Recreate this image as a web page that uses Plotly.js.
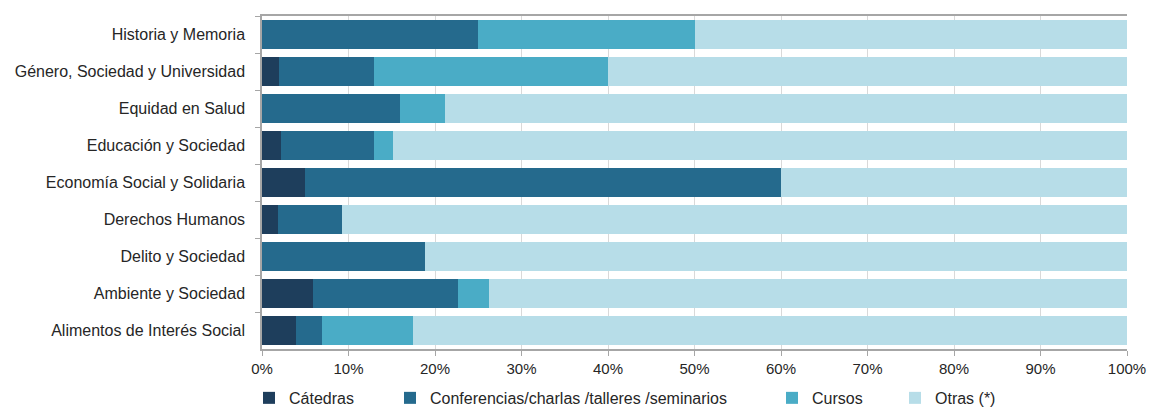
<!DOCTYPE html>
<html>
<head>
<meta charset="utf-8">
<script src="https://cdn.plot.ly/plotly-3.0.1.min.js"></script>
<style>html,body{margin:0;padding:0;background:#fff;}#chart{width:1151px;height:407px;}</style>
</head>
<body>
<div id="chart"></div>
<script>
const categories = [
  "Historia y Memoria",
  "Género, Sociedad y Universidad",
  "Equidad en Salud",
  "Educación y Sociedad",
  "Economía Social y Solidaria",
  "Derechos Humanos",
  "Delito y Sociedad",
  "Ambiente y Sociedad",
  "Alimentos de Interés Social"
];
const seriesNames = ["Cátedras", "Conferencias/charlas /talleres /seminarios", "Cursos", "Otras (*)"];
const catedras     = [0,   2,    0,    2.2,  5,  1.9, 0,    5.9,  3.9];
const conferencias = [25,  11,   15.9, 10.8, 55, 7.4, 18.8, 16.8, 3.0];
const cursos       = [25,  27,   5.2,  2.2,  0,  0,   0,    3.5,  10.6];
const otras        = [50,  60,   78.9, 84.8, 40, 90.7, 81.2, 73.8, 82.5];
const tickValues = [0, 0.1, 0.2, 0.3, 0.4, 0.5, 0.6, 0.7, 0.8, 0.9, 1];
const tickLabels = ["0%", "10%", "20%", "30%", "40%", "50%", "60%", "70%", "80%", "90%", "100%"];

const colors = ["#1e3e5c", "#256a8d", "#4aacc6", "#b7dde8"];
const allSeries = [catedras, conferencias, cursos, otras];
const legendIds = ["legend", "legend2", "legend3", "legend4"];

const traces = allSeries.map((vals, i) => ({
  type: "bar",
  orientation: "h",
  name: seriesNames[i],
  y: categories,
  x: vals.map((v, k) => v / (catedras[k] + conferencias[k] + cursos[k] + otras[k])),
  marker: {color: colors[i], line: {width: 0}},
  legend: legendIds[i],
  hovertemplate: "%{y}: %{x:.1%}<extra>" + seriesNames[i] + "</extra>"
}));

const FONT = "'Liberation Sans', Arial, sans-serif";
const legendX = [272, 413, 795, 918];
const L = 262, R = 1127;
function legendCfg(px) {
  return {
    orientation: "h",
    x: (px - L - 23) / (R - L),
    xanchor: "left",
    y: -0.147,
    yanchor: "middle",
    font: {family: FONT, size: 16, color: "#262626"},
    itemwidth: 30,
    bgcolor: "rgba(0,0,0,0)",
    traceorder: "normal"
  };
}

const layout = {
  width: 1151,
  height: 407,
  margin: {l: 262, r: 24, t: 16, b: 58, autoexpand: false},
  paper_bgcolor: "#fff",
  plot_bgcolor: "#fff",
  barmode: "stack",
  bargap: 0.19,
  font: {family: FONT, size: 15, color: "#262626"},
  xaxis: {
    range: [0, 1],
    tickvals: tickValues,
    ticktext: tickLabels,
    showgrid: true,
    gridcolor: "#d9d9d9",
    gridwidth: 1,
    zeroline: false,
    showline: true,
    linecolor: "#a6a6a6",
    linewidth: 1.5,
    mirror: true,
    ticks: "outside",
    ticklen: 5,
    tickcolor: "#a6a6a6",
    tickfont: {family: FONT, size: 15, color: "#262626"},
    fixedrange: true
  },
  yaxis: {
    type: "category",
    autorange: "reversed",
    showline: true,
    linecolor: "#a6a6a6",
    linewidth: 1.5,
    ticks: "outside",
    tickson: "boundaries",
    ticklen: 5,
    tickcolor: "#a6a6a6",
    ticklabelstandoff: 12,
    showgrid: false,
    zeroline: false,
    tickfont: {family: FONT, size: 16, color: "#262626"},
    fixedrange: true
  },
  legend: legendCfg(legendX[0]),
  legend2: legendCfg(legendX[1]),
  legend3: legendCfg(legendX[2]),
  legend4: legendCfg(legendX[3]),
  showlegend: true
};

Plotly.newPlot("chart", traces, layout, {displayModeBar: false});
</script>
</body>
</html>
